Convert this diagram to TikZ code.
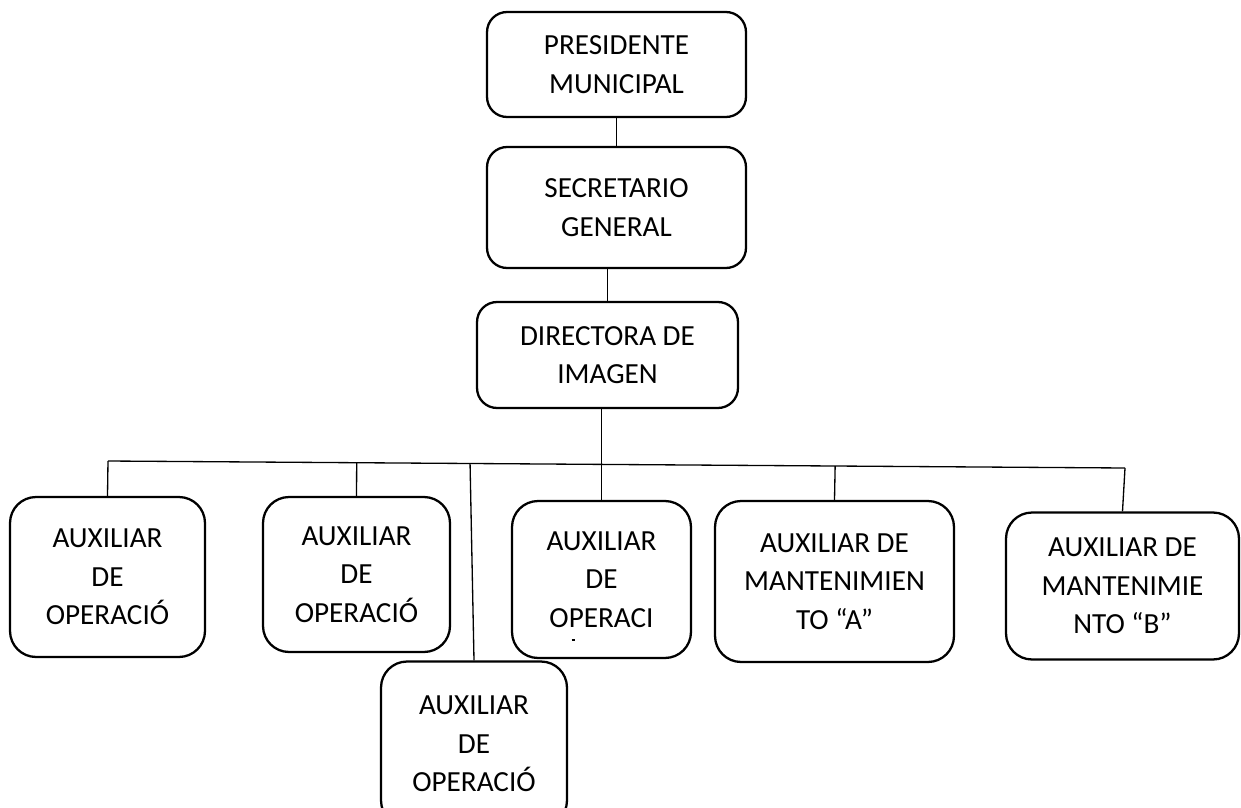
\documentclass[tikz,border=0pt]{standalone}
\usepackage{fontspec}
\setmainfont{Carlito}
\usetikzlibrary{calc}
\begin{document}
\begin{tikzpicture}[
  x=0.02cm, y=-0.02cm,
  block/.style={rectangle, draw, rounded corners=0.4cm, line width=1.3pt, inner sep=0pt, align=center, font=\fontsize{16.6}{22}\selectfont},
  auxblock/.style={block, rounded corners=0.52cm},
  link/.style={line width=0.75pt}
]
\useasboundingbox (0,0) rectangle (1241,808);
\node[block, minimum width=5.18cm, minimum height=2.1cm] (presidente) at (616.5,64.5) {PRESIDENTE\\MUNICIPAL};
\node[block, minimum width=5.18cm, minimum height=2.42cm] (secretario) at (616.5,207.5) {SECRETARIO\\GENERAL};
\node[block, minimum width=5.22cm, minimum height=2.12cm] (directora) at (607.5,355) {DIRECTORA DE\\IMAGEN};

\node[auxblock, minimum width=3.9cm, minimum height=3.2cm] (aux1) at (107.5,577) {AUXILIAR\\DE\\OPERACIÓ};
\node[auxblock, minimum width=3.74cm, minimum height=3.1cm] (aux2) at (356.5,574.5) {AUXILIAR\\DE\\OPERACIÓ};
\node[auxblock, minimum width=3.58cm, minimum height=3.14cm] (aux3) at (601.5,579.5) {AUXILIAR\\DE\\OPERACI};
\node[auxblock, minimum width=4.78cm, minimum height=3.22cm] (aux4) at (834.5,581.5) {AUXILIAR DE\\MANTENIMIEN\\TO “A”};
\node[auxblock, minimum width=4.66cm, minimum height=2.94cm] (aux5) at (1122.5,586) {AUXILIAR DE\\MANTENIMIE\\NTO “B”};
\node[auxblock, minimum width=3.72cm, minimum height=3.3cm] (aux6) at (474,744) {AUXILIAR\\DE\\OPERACIÓ};

% trozo de letra cortada
\draw[line width=0.6pt] (571.5,640) -- (574.5,640);

\draw[link] (presidente) -- (secretario);
\draw[link] (directora.north) -- (directora.north |- secretario.south);
\draw[link] (aux3.north) -- (aux3.north |- directora.south);

% linea horizontal
\coordinate (bl) at (108,461);
\coordinate (br) at (1125,468);
\coordinate (jsix) at ($(bl)!0.356!(br)$);
\coordinate (jfour) at ($(bl)!0.715!(br)$);
\draw[link] (bl) -- (br);
\draw[link] (aux1.north) -- (bl);
\draw[link] (aux2.north) -- ($(bl)!(aux2.north)!(br)$);
\draw[link] (aux4.north) -- (jfour);
\draw[link] (aux5.north) -- (br);
\draw[link] (jsix) -- (aux6.north);
\end{tikzpicture}
\end{document}
